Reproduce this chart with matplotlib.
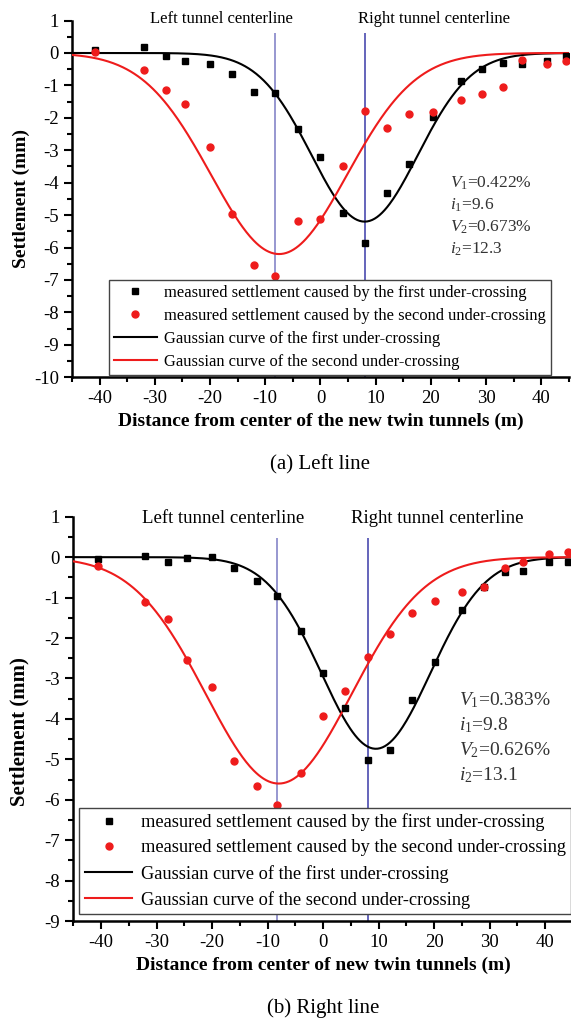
import numpy as np
import matplotlib.pyplot as plt
from matplotlib.ticker import MultipleLocator

plt.rcParams['font.family'] = ['Liberation Serif', 'DejaVu Serif']
plt.rcParams['mathtext.fontset'] = 'custom'
plt.rcParams['mathtext.rm'] = 'Liberation Serif'
plt.rcParams['mathtext.it'] = 'Liberation Serif:italic'
plt.rcParams['axes.unicode_minus'] = False

# ---- (a) Left line ----
x_a = [-40.8, -32, -28, -24.6, -20, -16, -12, -8.3, -4, 0, 4, 8, 12, 16, 20.4,
       25.4, 29.2, 33, 36.4, 41, 44.4]
first_a = [0.09, 0.19, -0.09, -0.24, -0.33, -0.65, -1.19, -1.24, -2.35, -3.2, -4.92,
           -5.87, -4.32, -3.42, -1.96, -0.86, -0.49, -0.32, -0.34, -0.24, -0.09]
second_a = [0.04, -0.52, -1.14, -1.57, -2.91, -4.96, -6.55, -6.89, -5.18, -5.12, -3.47,
            -1.79, -2.30, -1.89, -1.81, -1.45, -1.26, -1.04, -0.22, -0.34, -0.26]
# fitted Gaussian parameters (centre, max settlement, i)
fit1_a = (8.0, 5.2, 9.6)
fit2_a = (-7.5, 6.2, 12.3)
text_a = ["$V_1$=0.422%", "$i_1$=9.6", "$V_2$=0.673%", "$i_2$=12.3"]

# ---- (b) Right line ----
x_b = [-40.6, -32, -28, -24.6, -20, -16, -12, -8.3, -4, 0, 4, 8, 12, 16, 20.2,
       25, 29, 32.7, 36, 40.6, 44.1]
first_b = [-0.05, 0.02, -0.11, -0.02, 0.0, -0.26, -0.60, -0.95, -1.82, -2.87, -3.72,
           -5.01, -4.76, -3.54, -2.59, -1.31, -0.75, -0.36, -0.35, -0.13, -0.13]
second_b = [-0.22, -1.10, -1.53, -2.54, -3.20, -5.05, -5.66, -6.12, -5.35, -3.94, -3.31,
            -2.47, -1.91, -1.39, -1.08, -0.86, -0.75, -0.26, -0.12, 0.09, 0.13]
fit1_b = (9.5, 4.74, 9.8)
fit2_b = (-8.0, 5.6, 13.1)
text_b = ["$V_1$=0.383%", "$i_1$=9.8", "$V_2$=0.626%", "$i_2$=13.1"]

tunnels = [-8.3, 8.0]
tunnel_labels = ["Left tunnel centerline", "Right tunnel centerline"]
legend_labels = ["measured settlement caused by the first under-crossing",
                 "measured settlement caused by the second under-crossing",
                 "Gaussian curve of the first under-crossing",
                 "Gaussian curve of the second under-crossing"]


def gauss(x, p):
    c, smax, i = p
    return -smax * np.exp(-(x - c) ** 2 / (2 * i ** 2))


def panel(ax, x, s1, s2, f1, f2, ylim, vtop, label_y, label_fs, text, text_xy,
          text_fs, legend_box, legend_fs, legend_sp, ylab, xlabel, caption, caption_y):
    xx = np.linspace(-45, 45, 400)
    h1, = ax.plot(x, s1, 's', color='black', ms=4.5, zorder=4)
    h2, = ax.plot(x, s2, 'o', color='#ee1c1c', ms=5, zorder=4)
    h3, = ax.plot(xx, gauss(xx, f1), color='black', lw=1.5, zorder=3)
    h4, = ax.plot(xx, gauss(xx, f2), color='#ee1c1c', lw=1.5, zorder=3)
    ax.vlines(tunnels[0], ylim[0], vtop, color='#7b7bc4', lw=1.1, zorder=2)
    ax.vlines(tunnels[1], ylim[0], vtop, color='#3a3aa8', lw=1.1, zorder=2)
    ax.text(-18, label_y, tunnel_labels[0], ha='center', va='center', fontsize=label_fs)
    ax.text(20.5, label_y, tunnel_labels[1], ha='center', va='center', fontsize=label_fs)
    ax.text(text_xy[0], text_xy[1], "\n".join(text), ha='left', va='top',
            fontsize=text_fs, color='#333333', linespacing=1.35)
    ax.set_xlim(-45, 45)
    ax.set_ylim(*ylim)
    ax.xaxis.set_major_locator(MultipleLocator(10))
    ax.xaxis.set_minor_locator(MultipleLocator(5))
    ax.yaxis.set_major_locator(MultipleLocator(1))
    ax.yaxis.set_minor_locator(MultipleLocator(0.5))
    ax.tick_params(which='major', direction='out', length=6, width=1.5, labelsize=13.5)
    ax.tick_params(which='minor', direction='out', length=3.5, width=1.5)
    for sp in ['top', 'right']:
        ax.spines[sp].set_visible(False)
    for sp in ['left', 'bottom']:
        ax.spines[sp].set_linewidth(1.8)
    ax.set_ylabel("Settlement (mm)", fontsize=ylab[0], fontweight='bold')
    ax.yaxis.set_label_coords(ylab[1], ylab[2])
    ax.set_xlabel(xlabel, fontsize=14, fontweight='bold', labelpad=4)
    leg = ax.legend([h1, h2, h3, h4], legend_labels, loc='upper left',
                    bbox_to_anchor=legend_box, fontsize=legend_fs, frameon=True,
                    fancybox=False, edgecolor='#444444', handlelength=2.6,
                    borderpad=0.3, labelspacing=legend_sp, handletextpad=0.45,
                    borderaxespad=0, framealpha=1)
    leg.get_frame().set_linewidth(1.0)
    leg.set_zorder(5)
    ax.text(0.5, caption_y, caption, transform=ax.transAxes, ha='center', va='center',
            fontsize=15)


fig = plt.figure(figsize=(5.71, 10.23), dpi=100)
ax1 = fig.add_axes([0.126, 0.6312, 0.8705, 0.3487])
ax2 = fig.add_axes([0.1284, 0.0997, 0.875, 0.3952])

panel(ax1, x_a, first_a, second_a, fit1_a, fit2_a, (-10, 1), 0.62, 1.05, 12,
      text_a, (23.5, -3.75), 12.5, (0.074, 0.272), 11.9, 0.42, (14, -0.085, 0.5),
      "Distance from center of the new twin tunnels (m)", "(a) Left line", -0.245)
panel(ax2, x_b, first_b, second_b, fit1_b, fit2_b, (-9, 1), 0.47, 0.95, 13.5,
      text_b, (24.5, -3.3), 14, (0.012, 0.28), 13.2, 0.45, (15, -0.087, 0.468),
      "Distance from center of new twin tunnels (m)", "(b) Right line", -0.215)

fig.savefig("out.png", dpi=100)
